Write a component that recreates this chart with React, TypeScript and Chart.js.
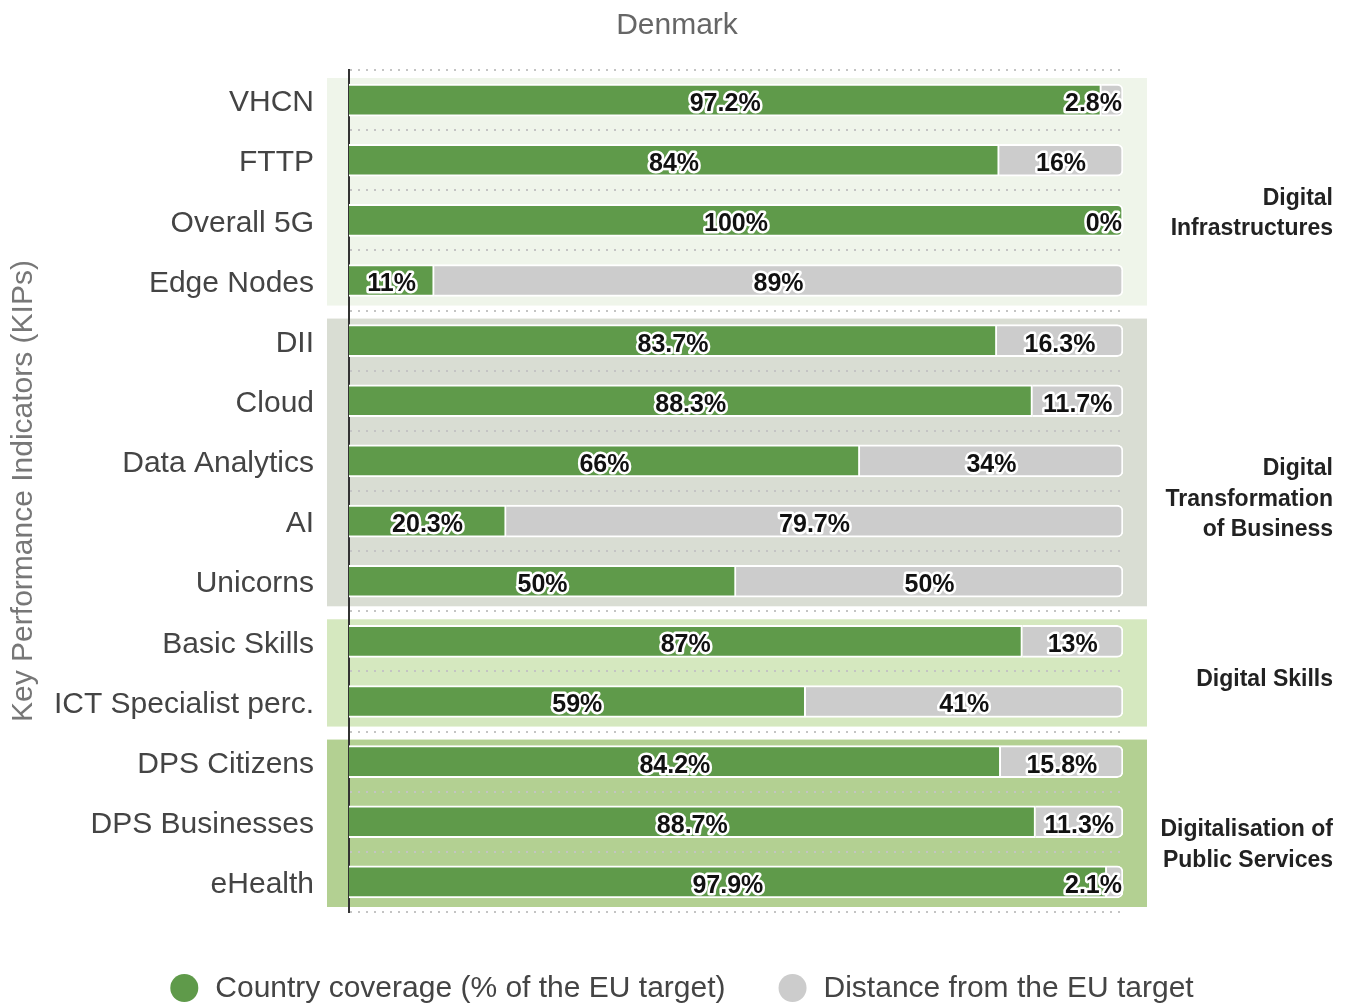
import React, { useEffect, useRef } from 'react';
import { Chart, registerables } from 'chart.js';

Chart.register(...registerables);

const FONT = "'Liberation Sans', Arial, Helvetica, sans-serif";

const categories = [
  'VHCN', 'FTTP', 'Overall 5G', 'Edge Nodes',
  'DII', 'Cloud', 'Data Analytics', 'AI', 'Unicorns',
  'Basic Skills', 'ICT Specialist perc.',
  'DPS Citizens', 'DPS Businesses', 'eHealth',
];
const coverage = [97.2, 84, 100, 11, 83.7, 88.3, 66, 20.3, 50, 87, 59, 84.2, 88.7, 97.9];
const distance = [2.8, 16, 0, 89, 16.3, 11.7, 34, 79.7, 50, 13, 41, 15.8, 11.3, 2.1];

const groupLabels = [
  ['Digital', 'Infrastructures'],
  ['Digital', 'Transformation', 'of Business'],
  ['Digital Skills'],
  ['Digitalisation of', 'Public Services'],
];
const groupSizes = [4, 5, 2, 3];
const groupColors = ['#eff5ea', '#d9ddd3', '#d5e8bf', '#b3d092'];

const seriesNames = ['Country coverage (% of the EU target)', 'Distance from the EU target'];
const seriesColors = ['#5f9a4a', '#cccccc'];

const chartTitle = 'Denmark';
const yTitle = 'Key Performance Indicators (KIPs)';

const groupPlugin = {
  id: 'groupPlugin',
  beforeDraw(chart: any) {
    const y = chart.scales.y;
    const ctx = chart.ctx;
    const area = chart.chartArea;
    const step = y.getPixelForValue(1) - y.getPixelForValue(0);
    let start = 0;
    groupSizes.forEach((n, g) => {
      const top = y.getPixelForValue(start) - step / 2;
      const bottom = y.getPixelForValue(start + n - 1) + step / 2;
      ctx.save();
      ctx.fillStyle = groupColors[g];
      ctx.fillRect(area.left - 22, top + 8, area.right - area.left + 46, bottom - top - 13);
      ctx.restore();
      start += n;
    });
  },
  afterDraw(chart: any) {
    const y = chart.scales.y;
    const ctx = chart.ctx;
    const step = y.getPixelForValue(1) - y.getPixelForValue(0);
    // group labels
    let start = 0;
    ctx.save();
    ctx.font = `bold 23px ${FONT}`;
    ctx.fillStyle = '#222';
    ctx.textAlign = 'right';
    ctx.textBaseline = 'middle';
    groupSizes.forEach((n, g) => {
      const top = y.getPixelForValue(start) - step / 2;
      const bottom = y.getPixelForValue(start + n - 1) + step / 2;
      const mid = (top + bottom) / 2;
      groupLabels[g].forEach((line, li) => {
        ctx.fillText(line, chart.width - 19, mid + 8 + li * 30.5);
      });
      start += n;
    });
    ctx.restore();

    // legend
    ctx.save();
    ctx.font = `30px ${FONT}`;
    ctx.textBaseline = 'middle';
    ctx.textAlign = 'left';
    const r = 14;
    const textGap = 45;
    const itemGap = 53;
    const widths = seriesNames.map((s) => textGap + ctx.measureText(s).width);
    const total = widths.reduce((a, b) => a + b, 0) + itemGap * (widths.length - 1);
    let x = chart.width / 2 + 6 - total / 2;
    const ly = 988;
    seriesNames.forEach((s, i) => {
      ctx.fillStyle = seriesColors[i];
      ctx.beginPath();
      ctx.arc(x + r, ly, r, 0, Math.PI * 2);
      ctx.fill();
      ctx.fillStyle = '#444';
      ctx.fillText(s, x + textGap, ly + 1);
      x += widths[i] + itemGap;
    });
    ctx.restore();
  },
};

const labelPlugin = {
  id: 'barLabels',
  afterDatasetsDraw(chart: any) {
    const ctx = chart.ctx;
    const area = chart.chartArea;
    ctx.save();
    ctx.font = `bold 25px ${FONT}`;
    ctx.textAlign = 'center';
    ctx.textBaseline = 'middle';
    ctx.lineJoin = 'round';
    ctx.lineWidth = 5;
    ctx.strokeStyle = '#ffffff';
    ctx.fillStyle = '#111111';
    chart.data.datasets.forEach((ds: any, di: number) => {
      const meta = chart.getDatasetMeta(di);
      meta.data.forEach((el: any, i: number) => {
        const v = ds.data[i];
        const text = `${v}%`;
        const w = ctx.measureText(text).width;
        const p = el.getProps(['x', 'base', 'y'], true);
        let cx = (p.x + p.base) / 2;
        cx = Math.min(cx, area.right - w / 2 - 1);
        cx = Math.max(cx, area.left + w / 2 + 2);
        ctx.strokeText(text, cx, p.y + 4);
        ctx.fillText(text, cx, p.y + 4);
      });
    });
    ctx.restore();
  },
};

export default function App() {
  const ref = useRef<HTMLCanvasElement | null>(null);

  useEffect(() => {
    if (!ref.current) return;
    const chart = new Chart(ref.current, {
      type: 'bar',
      data: {
        labels: categories,
        datasets: [
          {
            label: seriesNames[0],
            data: coverage,
            backgroundColor: seriesColors[0],
            borderColor: '#ffffff',
            borderWidth: 2,
            borderRadius: 6,
            borderSkipped: 'start',
            barThickness: 32,
          },
          {
            label: seriesNames[1],
            data: distance,
            backgroundColor: seriesColors[1],
            borderColor: '#ffffff',
            borderWidth: 2,
            borderRadius: 6,
            borderSkipped: 'start',
            barThickness: 32,
          },
        ],
      },
      options: {
        indexAxis: 'y',
        responsive: false,
        animation: false,
        layout: { padding: { left: 2, right: 0, top: 0, bottom: 91 } },
        plugins: {
          legend: { display: false },
          tooltip: { enabled: false },
          title: {
            display: true,
            text: chartTitle,
            color: '#666',
            font: { size: 30, family: FONT, weight: 'normal' },
            padding: { top: 8, bottom: 26 },
          },
        },
        scales: {
          x: { stacked: true, min: 0, max: 100, display: false },
          y: {
            stacked: true,
            grid: { display: true, color: '#c4c4c4', lineWidth: 2, drawTicks: false, offset: true },
            border: { display: true, color: '#333', width: 2, dash: [2, 6] },
            ticks: { color: '#444', font: { size: 30, family: FONT }, padding: 35, labelOffset: 3 },
            title: {
              display: true,
              text: yTitle,
              color: '#777',
              font: { size: 30, family: FONT },
              padding: { top: 4, bottom: 4 },
            },
            afterFit: (scale: any) => {
              scale.width = 347;
            },
          },
          y2: {
            type: 'linear',
            position: 'right',
            min: 0,
            max: 1,
            grid: { display: false },
            border: { display: false },
            ticks: { display: false },
            afterFit: (scale: any) => {
              scale.width = 229;
            },
          },
        },
      } as any,
      plugins: [groupPlugin, labelPlugin],
    });
    return () => chart.destroy();
  }, []);

  return (
    <div style={{ position: 'fixed', left: 0, top: 0, width: 1352, height: 1003, background: '#fff' }}>
      <canvas ref={ref} width={1352} height={1003} style={{ display: 'block' }} />
    </div>
  );
}
